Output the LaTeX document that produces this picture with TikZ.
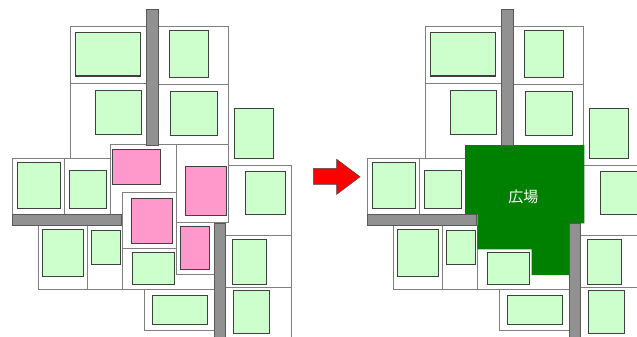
\documentclass[tikz,border=0pt]{standalone}
\usepackage{fontspec}
\newfontfamily\jpfont{Noto Sans CJK JP}
\definecolor{leafgreen}{HTML}{CCFFCC}
\definecolor{rosepink}{HTML}{FF99CC}
\definecolor{plazagreen}{HTML}{008000}
\begin{document}
\begin{tikzpicture}[x=1pt,y=-1pt,line join=miter]
  \tikzset{
    lot/.style={draw=black!50,fill=white,line width=1pt},
    house/.style={draw=black!75,fill=leafgreen,line width=1pt},
    pinkhouse/.style={house,fill=rosepink},
    road/.style={draw=black!65,fill=black!43,line width=0.8pt},
    plaza/.style={fill=plazagreen,draw=none},
    bigarrow/.style={fill=red,draw=black!70,line width=0.6pt}
  }
  \useasboundingbox (0,0) rectangle (637,337);
  \clip (0,0) rectangle (637,337);
  % Same block twice: before (left) and after (right, plaza in the middle).
  \foreach \dx in {0,355} {
    \begin{scope}[xshift=\dx pt]
      \foreach \xa/\ya/\xb/\yb in {70.7/26.7/147/83.3, 70.7/83.3/147/158.3,
          158.7/26.7/228.7/84.7, 158.7/84.7/228.7/145, 225.7/165/291.7/235,
          12.7/158.3/64.3/214.3, 64.3/158.3/110/214.3,
          38.7/225.3/87.3/289.3, 87.3/225.3/122.3/289.3,
          122.3/248.3/214.3/289.3, 144/289.3/214.3/330.7,
          225.7/235/291.7/287.3, 225.7/287.3/291.7/345}
        \draw[lot] (\xa,\ya) rectangle (\xb,\yb);
      \ifnum\dx=0
        % lots that become the plaza
        \foreach \xa/\ya/\xb/\yb in {110/144.3/176/214.3, 122.3/192.3/176/248.3,
            176/144.3/228.7/222.3, 176/222.3/214.3/274.3}
          \draw[lot] (\xa,\ya) rectangle (\xb,\yb);
      \fi
      \foreach \xa/\ya/\xb/\yb in {75.3/32.3/140.7/76, 169.3/31/208.7/77.7,
          95.3/90/141.7/134.7, 170.3/91.3/217.3/135.3, 234/108.7/273.3/158.3,
          245.3/171.3/285.7/214.3, 17.3/162.7/60.3/208.7, 69/170.3/106.3/208.7,
          42.7/229/83/276.3, 91/230.3/120.7/264.3, 132.3/252.7/174.7/284.7,
          152.3/295/207.3/324.7, 232.3/239.7/266.7/284, 233.3/290/269.3/333.7}
        \draw[house] (\xa,\ya) rectangle (\xb,\yb);
      \ifnum\dx=0
        \foreach \xa/\ya/\xb/\yb in {112.7/149/160.7/184, 185.7/166/226.7/215.7,
            131.3/198/172.3/243.3, 180.3/226.7/209/269.3}
          \draw[pinkhouse] (\xa,\ya) rectangle (\xb,\yb);
      \else
        \fill[plaza] (110,145) -- (229.3,145) -- (229.3,223.3) -- (215,223.3)
          -- (215,275) -- (176.7,275) -- (176.7,249.3) -- (122.3,249.3)
          -- (122.3,214.3) -- (110,214.3) -- cycle;
      \fi
      % roads
      \draw[road] (146.7,9) rectangle (158.7,145);
      \draw[road] (12.7,214.3) rectangle (121.7,225.3);
      \draw[road] (214.3,223.3) rectangle (225.7,345);
    \end{scope}
  }
  \node[text=white,font=\jpfont\fontsize{15}{17}\selectfont] (plazalabel)
    at (523.3,196.5) {広場};
  \draw[bigarrow] (313.3,168.3) -- (336.7,168.3) -- (336.7,159.3) -- (360,176.8)
    -- (336.7,194.3) -- (336.7,184.3) -- (313.3,184.3) -- cycle;
\end{tikzpicture}
\end{document}
